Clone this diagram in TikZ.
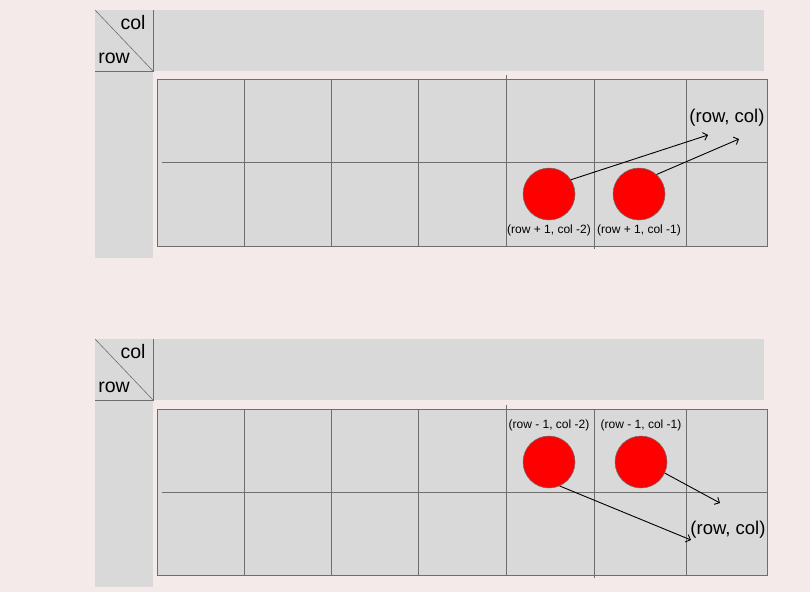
\documentclass[tikz,border=0pt]{standalone}
\usepackage{fontspec}
\setmainfont{Liberation Sans}
\usetikzlibrary{arrows.meta}
\definecolor{bgpink}{HTML}{F5EAEA}
\definecolor{cellgray}{HTML}{D9D9D9}
\definecolor{linegray}{HTML}{6E6E6E}
\tikzset{
  dot/.style={circle,fill=red,draw=linegray,line width=0.5pt,minimum size=52pt,inner sep=0pt},
  small/.style={font=\fontsize{12}{14}\selectfont,inner sep=0pt},
  big/.style={font=\fontsize{18.5}{22}\selectfont,inner sep=0pt},
  corner/.style={font=\fontsize{19.5}{22}\selectfont,inner sep=0pt},
  gridline/.style={linegray,line width=0.6pt},
  link/.style={line width=0.9pt,-{Straight Barb[length=4pt,width=8pt]}},
}
\begin{document}
\begin{tikzpicture}[x=1pt,y=-1pt]
  \fill[bgpink] (0,0) rectangle (810,592);
  \useasboundingbox (0,0) rectangle (810,592);

  % upper table
  \fill[cellgray] (95,10) rectangle (764,71);
  \fill[cellgray] (95,71) rectangle (153,258);
  \draw[gridline] (95,10) -- (153,71);
  \draw[gridline] (95,71) -- (153,71) -- (153,10);
  \node[corner] (colA) at (133,23) {col};
  \node[corner] (rowA) at (114,58) {row};

  \draw[gridline,fill=cellgray] (157,79) rectangle (767,246);
  \draw[gridline] (162,162) -- (767,162);
  \foreach \x in {244,331,418,686}
    \draw[gridline] (\x,79) -- (\x,246);
  \draw[gridline] (506,75) -- (506,246);
  \draw[gridline] (594,79) -- (594,249);

  \node[dot] (upA) at (549,194) {};
  \node[dot] (upB) at (639,194) {};
  \node[small] (upAlbl) at (549,230) {(row + 1, col -2)};
  \node[small] (upBlbl) at (639,230) {(row + 1, col -1)};
  \node[big] (upT) at (727,118) {(row, col)};
  \coordinate (upEndA) at (708,135);
  \coordinate (upEndB) at (739,139);
  \draw[link] (upA.33) -- (upEndA);
  \draw[link] (upB.48) -- (upEndB);

  % lower table
  \fill[cellgray] (95,339) rectangle (764,400);
  \fill[cellgray] (95,400) rectangle (153,587);
  \draw[gridline] (95,339) -- (153,400);
  \draw[gridline] (95,400) -- (153,400) -- (153,339);
  \node[corner] (colB) at (133,352) {col};
  \node[corner] (rowB) at (114,387) {row};

  \draw[gridline,fill=cellgray] (157,409) rectangle (767,575);
  \draw[gridline] (162,492) -- (767,492);
  \foreach \x in {244,331,418,686}
    \draw[gridline] (\x,409) -- (\x,575);
  \draw[gridline] (506,405) -- (506,575);
  \draw[gridline] (594,409) -- (594,578);

  \node[dot] (dnA) at (549,462) {};
  \node[dot] (dnB) at (641,462) {};
  \node[small] (dnAlbl) at (549,425) {(row - 1, col -2)};
  \node[small] (dnBlbl) at (641,425) {(row - 1, col -1)};
  \node[big] (dnT) at (728,530) {(row, col)};
  \coordinate (dnEndA) at (691,540);
  \coordinate (dnEndB) at (720,503);
  \draw[link] (dnA.-66) -- (dnEndA);
  \draw[link] (dnB.-25) -- (dnEndB);
\end{tikzpicture}
\end{document}
